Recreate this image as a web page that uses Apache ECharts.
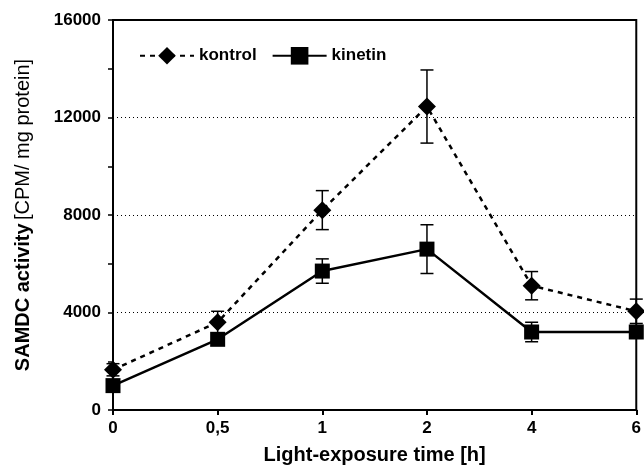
<!DOCTYPE html>
<html>
<head>
<meta charset="utf-8">
<script src="https://cdn.jsdelivr.net/npm/echarts@6/dist/echarts.min.js"></script>
<style>
  html, body { margin: 0; padding: 0; background: #fff; }
  #chart { width: 644px; height: 471px; }
</style>
</head>
<body>
<div id="chart"></div>
<script>
// categories (light-exposure time, h)
var times = ['0', '0,5', '1', '2', '4', '6'];
// SAMDC activity, CPM / mg protein
var kontrol = [1650, 3600, 8200, 12450, 5100, 4050];
var kontrolErr = [250, 450, 800, 1500, 580, 500];
var kinetin = [1000, 2900, 5700, 6600, 3200, 3200];
var kinetinErr = [150, 200, 500, 1000, 400, 250];
var yTicks = [0, 4000, 8000, 12000, 16000];

var chart = echarts.init(document.getElementById('chart'));

function errSeries(vals, errs) {
  return {
    type: 'custom',
    silent: true,
    z: 1,
    data: vals.map(function (v, i) { return [i, v - errs[i], v + errs[i]]; }),
    renderItem: function (params, api) {
      var lo = api.coord([api.value(0), api.value(1)]);
      var hi = api.coord([api.value(0), api.value(2)]);
      var w = 6.5;
      var st = { stroke: '#000', lineWidth: 1.5 };
      return {
        type: 'group',
        children: [
          { type: 'line', shape: { x1: lo[0], y1: lo[1], x2: hi[0], y2: hi[1] }, style: st },
          { type: 'line', shape: { x1: lo[0] - w, y1: lo[1], x2: lo[0] + w, y2: lo[1] }, style: st },
          { type: 'line', shape: { x1: hi[0] - w, y1: hi[1], x2: hi[0] + w, y2: hi[1] }, style: st }
        ]
      };
    }
  };
}

var option = {
  backgroundColor: '#fff',
  animation: false,
  textStyle: { fontFamily: 'Liberation Sans', color: '#000' },
  grid: {
    left: 113, right: 7, top: 20, bottom: 61,
    show: true, borderColor: '#000', borderWidth: 2
  },
  legend: {
    data: ['kontrol', 'kinetin'],
    left: 134, top: 42,
    itemWidth: 54, itemHeight: 22, itemGap: 15,
    textStyle: { fontSize: 17, fontWeight: 'bold', color: '#000' }
  },
  xAxis: {
    type: 'category',
    data: times,
    boundaryGap: false,
    name: 'Light-exposure time [h]',
    nameLocation: 'middle',
    nameGap: 35,
    nameTextStyle: { fontSize: 20, fontWeight: 'bold', color: '#000' },
    axisLine: { lineStyle: { color: '#000', width: 2 } },
    axisTick: { alignWithLabel: true, length: 5, lineStyle: { color: '#000', width: 2 } },
    axisLabel: { fontSize: 17, fontWeight: 'bold', color: '#000', margin: 10 },
    splitLine: { show: false }
  },
  yAxis: {
    type: 'value',
    min: 0, max: 16000, interval: 4000,
    name: '{b|SAMDC activity} {n|[CPM/ mg protein]}',
    nameLocation: 'middle',
    nameGap: 80,
    nameTextStyle: {
      rich: {
        b: { fontSize: 20, fontWeight: 'bold', color: '#000', fontFamily: 'Liberation Sans' },
        n: { fontSize: 20, color: '#000', fontFamily: 'Liberation Sans' }
      }
    },
    axisLine: { show: true, lineStyle: { color: '#000', width: 2 } },
    axisTick: { show: true, length: 5, lineStyle: { color: '#000', width: 1.5 } },
    minorTick: { show: true, splitNumber: 2, length: 5, lineStyle: { color: '#000', width: 1.5 } },
    axisLabel: {
      fontSize: 17, fontWeight: 'bold', color: '#000', margin: 12,
      customValues: yTicks,
      formatter: function (v) { return String(v); }
    },
    splitLine: { show: true, lineStyle: { color: '#000', width: 1, type: [1, 3] } }
  },
  series: [
    errSeries(kontrol, kontrolErr),
    errSeries(kinetin, kinetinErr),
    {
      name: 'kontrol',
      type: 'line',
      data: kontrol,
      symbol: 'diamond',
      symbolSize: 18,
      z: 3,
      itemStyle: { color: '#000' },
      lineStyle: { color: '#000', width: 2.5, type: [5, 5] }
    },
    {
      name: 'kinetin',
      type: 'line',
      data: kinetin,
      symbol: 'rect',
      symbolSize: 15,
      z: 4,
      itemStyle: { color: '#000' },
      lineStyle: { color: '#000', width: 2.5 }
    }
  ]
};

chart.setOption(option);
</script>
</body>
</html>
